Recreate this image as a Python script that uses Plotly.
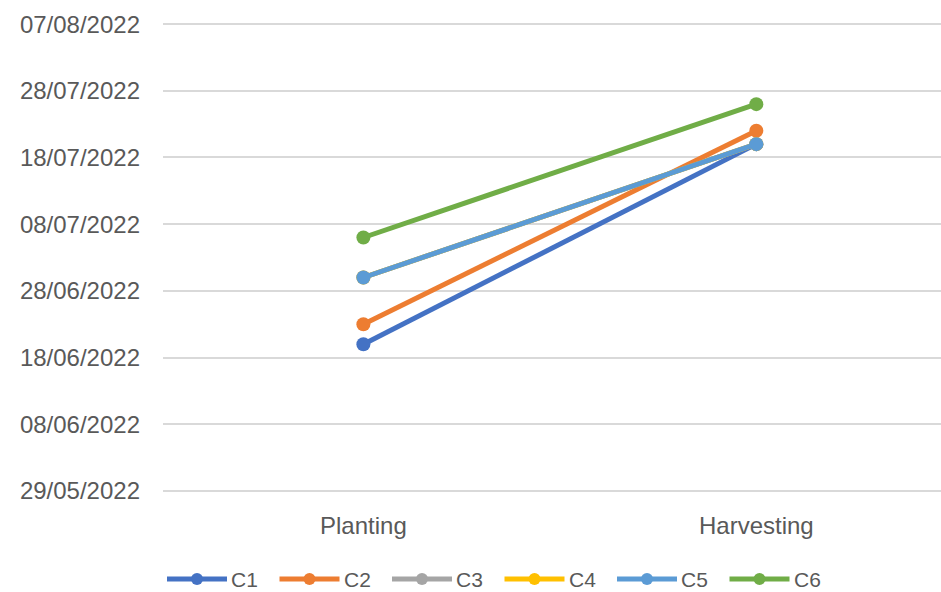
import plotly.graph_objects as go

# Crop stage dates per plot
stages = ["Planting", "Harvesting"]
series_names = ["C1", "C2", "C3", "C4", "C5", "C6"]
c1_dates = ["2022-06-20", "2022-07-20"]
c2_dates = ["2022-06-23", "2022-07-22"]
c3_dates = ["2022-06-30", "2022-07-20"]
c4_dates = ["2022-06-30", "2022-07-20"]
c5_dates = ["2022-06-30", "2022-07-20"]
c6_dates = ["2022-07-06", "2022-07-26"]
series_dates = [c1_dates, c2_dates, c3_dates, c4_dates, c5_dates, c6_dates]
colors = ["#4472C4", "#ED7D31", "#A5A5A5", "#FFC000", "#5B9BD5", "#70AD47"]

# Y-axis date span (ticks every 10 days); padded a few hours so end gridlines show
y_first_tick = "2022-05-29"
y_range = ["2022-05-28 20:00", "2022-08-07 04:00"]

FONT = "Liberation Sans"
TEXT_COLOR = "#595959"

W, H = 941, 592
ML, MR, MT, MB = 163, 0, 23, 100

fig = go.Figure()
for name, dates, col in zip(series_names, series_dates, colors):
    fig.add_trace(go.Scatter(
        x=stages, y=dates, name=name, mode="lines+markers",
        line=dict(color=col, width=5),
        marker=dict(color=col, size=14),
        showlegend=False,
    ))

fig.update_layout(
    width=W, height=H,
    margin=dict(l=ML, r=MR, t=MT, b=MB),
    paper_bgcolor="white", plot_bgcolor="white",
    font=dict(family=FONT, color=TEXT_COLOR, size=22),
)

fig.update_xaxes(
    type="category",
    range=[-0.51, 1.47],
    showgrid=False, zeroline=False, showline=False,
    ticks="", ticklabelstandoff=17,
    tickfont=dict(size=24, color=TEXT_COLOR, family=FONT),
)
fig.update_yaxes(
    type="date",
    range=y_range,
    tick0=y_first_tick, dtick=10 * 24 * 3600 * 1000,
    tickformat="%d/%m/%Y",
    showgrid=True, gridcolor="#D9D9D9", gridwidth=2,
    zeroline=False, showline=False,
    ticks="", ticklabelstandoff=22,
    tickfont=dict(size=24, color=TEXT_COLOR, family=FONT),
)

# Legend row below the chart: line segment with a dot, followed by the label
plot_w = W - ML - MR
plot_h = H - MT - MB


def px_x(px):
    return (px - ML) / plot_w


def px_y(py):
    return (H - MB - py) / plot_h


legend_x0 = 167
legend_step = 112.5
legend_len = 60
legend_py = 579
for i, (name, col) in enumerate(zip(series_names, colors)):
    x0 = legend_x0 + i * legend_step
    x1 = x0 + legend_len
    yy = px_y(legend_py)
    fig.add_shape(type="line", xref="paper", yref="paper",
                  x0=px_x(x0), x1=px_x(x1), y0=yy, y1=yy,
                  line=dict(color=col, width=5))
    fig.add_shape(type="circle", xref="paper", yref="paper",
                  xsizemode="pixel", ysizemode="pixel",
                  xanchor=px_x((x0 + x1) / 2), yanchor=yy,
                  x0=-6, x1=6, y0=-6, y1=6,
                  fillcolor=col, line=dict(color=col, width=0))
    fig.add_annotation(xref="paper", yref="paper",
                       x=px_x(x1 + 3), y=yy, text=name,
                       showarrow=False, xanchor="left", yanchor="middle",
                       borderpad=0,
                       font=dict(size=21, color=TEXT_COLOR, family=FONT))

fig.write_html("out.html")
